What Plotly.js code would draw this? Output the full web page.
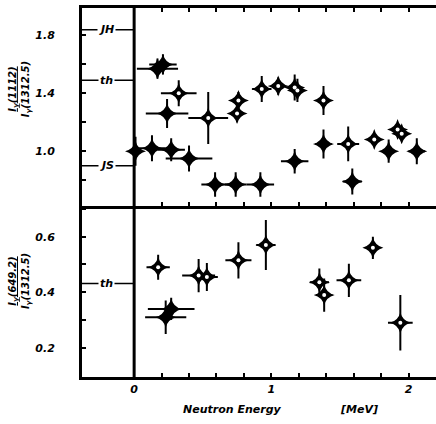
<!DOCTYPE html>
<html><head><meta charset="utf-8">
<script src="https://cdn.plot.ly/plotly-3.0.1.min.js"></script>
<style>html,body{margin:0;padding:0;background:#fff;}#chart{width:436px;height:424px;}</style>
</head><body><div id="chart"></div>
<script>
// Upper panel: I(1112)/I(1312.5)
var topFilledX    = [0.01, 0.17, 0.21, 0.24, 0.13, 0.27, 0.40, 0.59, 0.74, 0.92, 1.17, 1.38, 1.59, 1.855, 2.06];
var topFilledY    = [1.00, 1.57, 1.60, 1.26, 1.02, 1.01, 0.95, 0.77, 0.77, 0.77, 0.93, 1.05, 0.79, 1.00, 1.00];
var topFilledXerr = [0.02, 0.15, 0.10, 0.155, 0.10, 0.10, 0.17, 0.10, 0.08, 0.10, 0.10, 0.06, 0.07, 0.03, 0.06];
var topFilledYerr = [0.10, 0.07, 0.07, 0.10, 0.09, 0.08, 0.09, 0.085, 0.085, 0.085, 0.085, 0.10, 0.09, 0.08, 0.09];

var topOpenX    = [0.325, 0.54, 0.75, 0.76, 0.93, 1.05, 1.17, 1.19, 1.38, 1.56, 1.75, 1.92, 1.95];
var topOpenY    = [1.40, 1.23, 1.26, 1.35, 1.43, 1.45, 1.44, 1.42, 1.35, 1.05, 1.08, 1.15, 1.12];
var topOpenXerr = [0.13, 0.145, 0.05, 0.05, 0.07, 0.05, 0.05, 0.05, 0.03, 0.08, 0.03, 0.03, 0.03];
var topOpenYerr = [0.09, 0.18, 0.06, 0.06, 0.09, 0.06, 0.09, 0.08, 0.10, 0.12, 0.03, 0.03, 0.03];

// Lower panel: I(649.2)/I(1312.5)
var botOpenX    = [0.175, 0.47, 0.53, 0.76, 0.96, 1.35, 1.385, 1.565, 1.74, 1.94];
var botOpenY    = [0.49, 0.46, 0.455, 0.515, 0.57, 0.436, 0.39, 0.443, 0.56, 0.29];
var botOpenXerr = [0.085, 0.12, 0.08, 0.095, 0.07, 0.07, 0.06, 0.09, 0.03, 0.09];
var botOpenYerr = [0.045, 0.06, 0.05, 0.065, 0.09, 0.05, 0.06, 0.06, 0.04, 0.10];

var botFilledX    = [0.27, 0.23];
var botFilledY    = [0.34, 0.31];
var botFilledXerr = [0.17, 0.15];
var botFilledYerr = [0.04, 0.06];

// Reference levels drawn left of zero
var refTopLabels = ['JH', 'th', 'JS'];
var refTopValues = [1.84, 1.49, 0.90];
var refBotLabels = ['th'];
var refBotValues = [0.432];

// Axis ticks
var xTickVals = [0, 0.2, 0.4, 0.6, 0.8, 1.0, 1.2, 1.4, 1.6, 1.8, 2.0, 2.2];
var xTickText = ['0', '', '', '', '', '1', '', '', '', '', '2', ''];
var yTopTickVals = [0.8, 1.0, 1.2, 1.4, 1.6, 1.8];
var yTopTickText = ['', '1.0', '', '1.4', '', '1.8'];
var yBotTickVals = [0.2, 0.3, 0.4, 0.5, 0.6, 0.7];
var yBotTickText = ['0.2', '', '0.4', '', '0.6', ''];

var X0 = -0.38, X1 = 2.2;
var fnt = {family: 'DejaVu Sans', size: 11, color: '#000', weight: 'bold', style: 'italic'};

function errTrace(x, y, xe, ye, xa, ya) {
  return {
    x: x, y: y, xaxis: xa, yaxis: ya, type: 'scatter', mode: 'markers',
    marker: {symbol: 'star-diamond', size: 15, color: '#000'},
    error_x: {type: 'data', array: xe, visible: true, color: '#000', thickness: 2, width: 0},
    error_y: {type: 'data', array: ye, visible: true, color: '#000', thickness: 2, width: 0},
    hoverinfo: 'skip', showlegend: false
  };
}
function holeTrace(x, y, xa, ya) {
  return {x: x, y: y, xaxis: xa, yaxis: ya, type: 'scatter', mode: 'markers',
    marker: {symbol: 'circle', size: 4, color: '#fff'}, hoverinfo: 'skip', showlegend: false};
}

var data = [
  errTrace(topFilledX, topFilledY, topFilledXerr, topFilledYerr, 'x2', 'y2'),
  errTrace(topOpenX, topOpenY, topOpenXerr, topOpenYerr, 'x2', 'y2'),
  holeTrace(topOpenX, topOpenY, 'x2', 'y2'),
  errTrace(botFilledX, botFilledY, botFilledXerr, botFilledYerr, 'x', 'y'),
  errTrace(botOpenX, botOpenY, botOpenXerr, botOpenYerr, 'x', 'y'),
  holeTrace(botOpenX, botOpenY, 'x', 'y')
];

var shapes = [
  {type: 'line', xref: 'x', yref: 'paper', x0: 0, x1: 0, y0: 0, y1: 1, line: {color: '#000', width: 3}}
];
var annotations = [];
function addRefs(labels, vals, xa, ya) {
  for (var i = 0; i < labels.length; i++) {
    shapes.push({type: 'line', xref: xa, yref: ya, x0: X0, x1: 0, y0: vals[i], y1: vals[i], line: {color: '#000', width: 1.5}});
    annotations.push({xref: xa, yref: ya, x: -0.2, y: vals[i], text: labels[i], showarrow: false,
      bgcolor: '#fff', borderpad: 1, font: {family: 'DejaVu Sans', size: 11, color: '#000', weight: 'bold', style: 'italic'}});
  }
}
addRefs(refTopLabels, refTopValues, 'x2', 'y2');
addRefs(refBotLabels, refBotValues, 'x', 'y');

// y-axis titles as fractions
annotations.push({xref: 'paper', yref: 'paper', x: -0.175, y: 0.78, xanchor: 'center', yanchor: 'middle',
  text: '<u>I<sub>γ</sub>(1112)</u><br>I<sub>γ</sub>(1312.5)', textangle: -90, showarrow: false,
  font: {family: 'DejaVu Sans', size: 10, color: '#000', weight: 'bold', style: 'italic'}});
annotations.push({xref: 'paper', yref: 'paper', x: -0.175, y: 0.26, xanchor: 'center', yanchor: 'middle',
  text: '<u>I<sub>γ</sub>(649.2)</u><br>I<sub>γ</sub>(1312.5)', textangle: -90, showarrow: false,
  font: {family: 'DejaVu Sans', size: 10, color: '#000', weight: 'bold', style: 'italic'}});
// x-axis title
annotations.push({xref: 'x', yref: 'paper', x: 0.72, y: -0.065, yanchor: 'top', text: 'Neutron Energy', showarrow: false,
  font: {family: 'DejaVu Sans', size: 11, color: '#000', weight: 'bold', style: 'italic'}});
annotations.push({xref: 'x', yref: 'paper', x: 1.64, y: -0.065, yanchor: 'top', text: '[MeV]', showarrow: false,
  font: {family: 'DejaVu Sans', size: 11, color: '#000', weight: 'bold', style: 'italic'}});

var axLine = {showline: true, linecolor: '#000', linewidth: 3, showgrid: false, zeroline: false,
  ticks: 'inside', ticklen: 4, tickwidth: 2, tickcolor: '#000'};

var layout = {
  width: 436, height: 424,
  margin: {l: 82, r: 0, t: 8, b: 47},
  paper_bgcolor: '#fff', plot_bgcolor: '#fff',
  showlegend: false,
  xaxis: Object.assign({}, axLine, {mirror: false, range: [X0, X1], tickvals: xTickVals, ticktext: xTickText, tickfont: fnt,
    anchor: 'y', domain: [0, 1]}),
  xaxis2: Object.assign({}, axLine, {mirror: 'ticks', range: [X0, X1], tickvals: xTickVals, showticklabels: false, anchor: 'y2', matches: 'x'}),
  yaxis: Object.assign({}, axLine, {mirror: false, range: [0.095, 0.71], domain: [0, 0.463], tickvals: yBotTickVals, ticktext: yBotTickText,
    tickfont: fnt, ticklabelstandoff: 22, anchor: 'x'}),
  yaxis2: Object.assign({}, axLine, {mirror: false, range: [0.62, 1.99], domain: [0.463, 1], tickvals: yTopTickVals, ticktext: yTopTickText,
    tickfont: fnt, ticklabelstandoff: 22, anchor: 'x2'}),
  shapes: shapes,
  annotations: annotations
};

Plotly.newPlot('chart', data, layout, {displayModeBar: false, staticPlot: true});
</script></body></html>
